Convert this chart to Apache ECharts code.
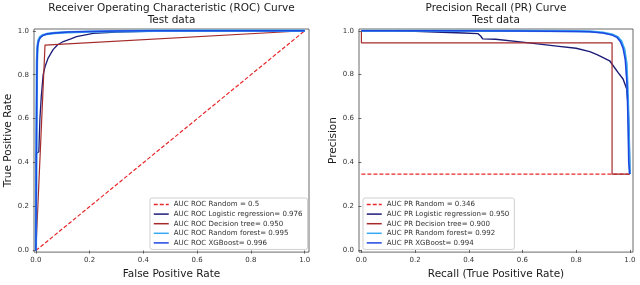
<!DOCTYPE html>
<html>
<head>
<meta charset="utf-8">
<script src="https://cdn.jsdelivr.net/npm/echarts@6/dist/echarts.min.js"></script>
<style>html,body{margin:0;padding:0;background:#fff}#c{width:640px;height:285px}</style>
</head>
<body>
<div id="c"></div>
<script>
// ---------- Data ----------
const tickValues = [0, 0.2, 0.4, 0.6, 0.8, 1.0];

// ROC curves (x = false positive rate, y = true positive rate)
const rocRandomFpr = [0, 1];
const rocRandomTpr = [0, 1];
const rocLogFpr = [0, 0, 0.011, 0.015, 0.02, 0.027, 0.035, 0.046, 0.064, 0.08, 0.102, 0.13, 0.151, 0.213, 0.3, 0.45, 0.6, 1.0];
const rocLogTpr = [0, 0.44, 0.45, 0.6, 0.7, 0.80, 0.84, 0.877, 0.914, 0.935, 0.951, 0.963, 0.973, 0.988, 0.994, 0.999, 1.0, 1.0];
const rocTreeFpr = [0, 0.034, 1];
const rocTreeTpr = [0, 0.935, 1];
const rocRfFpr = [0, 0.002, 0.004, 0.006, 0.01, 0.016, 0.025, 0.04, 0.07, 0.12, 0.2, 0.3, 0.45, 1];
const rocRfTpr = [0, 0.5, 0.86, 0.93, 0.958, 0.972, 0.98, 0.985, 0.99, 0.993, 0.996, 0.998, 1.0, 1.0];
const rocXgbFpr = [0, 0.002, 0.004, 0.006, 0.01, 0.016, 0.025, 0.04, 0.07, 0.12, 0.2, 0.3, 0.45, 1];
const rocXgbTpr = [0, 0.5, 0.85, 0.925, 0.953, 0.968, 0.978, 0.985, 0.99, 0.994, 0.997, 0.999, 1.0, 1.0];

// PR curves (x = recall, y = precision)
const prRandomRec = [0, 1];
const prRandomPrec = [0.346, 0.346];
const prLogRec = [0, 0.117, 0.2, 0.3, 0.38, 0.434, 0.445, 0.452, 0.5, 0.6, 0.728, 0.8, 0.851, 0.88, 0.925, 0.956, 0.975, 0.988, 0.994, 0.998, 1.0];
const prLogPrec = [1.0, 1.0, 0.997, 0.993, 0.99, 0.987, 0.975, 0.963, 0.961, 0.948, 0.93, 0.92, 0.905, 0.89, 0.863, 0.81, 0.78, 0.737, 0.66, 0.5, 0.346];
const prTreeRec = [0, 0, 0.934, 0.934, 1];
const prTreePrec = [1.0, 0.945, 0.945, 0.346, 0.346];
const prRfRec = [0, 0.3, 0.6, 0.8, 0.85, 0.9, 0.937, 0.955, 0.969, 0.98, 0.988, 0.993, 0.997, 1.0];
const prRfPrec = [1.0, 1.0, 0.999, 0.998, 0.997, 0.992, 0.982, 0.972, 0.952, 0.915, 0.85, 0.7, 0.5, 0.346];
const prXgbRec = [0, 0.3, 0.6, 0.8, 0.85, 0.9, 0.935, 0.952, 0.965, 0.975, 0.983, 0.99, 0.994, 0.996, 1.0];
const prXgbPrec = [1.0, 1.0, 0.999, 0.997, 0.995, 0.99, 0.98, 0.97, 0.95, 0.92, 0.87, 0.75, 0.55, 0.4, 0.346];

const rocNames = ['AUC ROC Random = 0.5', 'AUC ROC Logistic regression= 0.976', 'AUC ROC Decision tree= 0.950', 'AUC ROC Random forest= 0.995', 'AUC ROC XGBoost= 0.996'];
const prNames = ['AUC PR Random = 0.346', 'AUC PR Logistic regression= 0.950', 'AUC PR Decision tree= 0.900', 'AUC PR Random forest= 0.992', 'AUC PR XGBoost= 0.994'];
const titles = ['Receiver Operating Characteristic (ROC) Curve\nTest data', 'Precision Recall (PR) Curve\nTest data'];
const xNames = ['False Positive Rate', 'Recall (True Positive Rate)'];
const yNames = ['True Positive Rate', 'Precision'];

// ---------- Styling ----------
const FONT = 'DejaVu Sans';
const colors = { random: '#e8282b', log: '#1c1c78', tree: '#a52a2a', rf: '#37a8f2', xgb: '#1f46e0' };

function zip(xs, ys) { return xs.map((x, i) => [x, ys[i]]); }

function mkAxis(idx, min, max, name, gap) {
  return {
    type: 'value', gridIndex: idx, min: min, max: max,
    name: name, nameLocation: 'middle', nameGap: gap,
    nameTextStyle: { fontFamily: FONT, fontSize: 10.5, color: '#1a1a1a' },
    axisLine: { show: false },
    axisTick: { show: true, length: 3, lineStyle: { color: '#444', width: 0.8 }, customValues: tickValues },
    axisLabel: { fontFamily: FONT, fontSize: 7, color: '#333', margin: 5, customValues: tickValues, formatter: v => v.toFixed(1) },
    splitLine: { show: false }
  };
}
function line(name, idx, data, color, width, dashed, z) {
  return {
    type: 'line', name: name, xAxisIndex: idx, yAxisIndex: idx,
    data: data, showSymbol: false, symbol: 'none', smooth: false, z: z,
    lineStyle: { color: color, width: width, type: dashed ? [4, 2] : 'solid' },
    itemStyle: { color: color },
    emphasis: { disabled: true }, animation: false
  };
}
function legend(names, left) {
  return {
    data: names, orient: 'vertical', left: left, top: 198,
    itemWidth: 15, itemHeight: 8, itemGap: 2.6,
    padding: [3, 5, 3, 3],
    backgroundColor: '#fff', borderColor: '#cfcfcf', borderWidth: 1, borderRadius: 2,
    itemStyle: { opacity: 0 },
    lineStyle: { width: 1.5 },
    textStyle: { fontFamily: FONT, fontSize: 7.05, color: '#333' },
    selectedMode: false
  };
}

const option = {
  animation: false,
  backgroundColor: '#fff',
  title: [
    { text: titles[0], left: 171.5, textAlign: 'center', top: 2, padding: 0,
      textStyle: { fontFamily: FONT, fontSize: 10.5, fontWeight: 'normal', color: '#1a1a1a', lineHeight: 12.4 } },
    { text: titles[1], left: 496, textAlign: 'center', top: 2, padding: 0,
      textStyle: { fontFamily: FONT, fontSize: 10.5, fontWeight: 'normal', color: '#1a1a1a', lineHeight: 12.4 } }
  ],
  grid: [
    { left: 34, top: 29, width: 275, height: 228, show: true, borderColor: '#444', borderWidth: 0.8, backgroundColor: 'transparent', containLabel: false },
    { left: 359, top: 29, width: 274, height: 228, show: true, borderColor: '#444', borderWidth: 0.8, backgroundColor: 'transparent', containLabel: false }
  ],
  xAxis: [mkAxis(0, -0.007, 1.016, xNames[0], 14), mkAxis(1, -0.009, 1.012, xNames[1], 14)],
  yAxis: [mkAxis(0, -0.007, 1.008, yNames[0], 20), mkAxis(1, -0.01, 1.008, yNames[1], 19)],
  legend: [legend(rocNames, 150), legend(prNames, 363)],
  series: [
    line(rocNames[0], 0, zip(rocRandomFpr, rocRandomTpr), colors.random, 1.2, true, 2),
    line(rocNames[1], 0, zip(rocLogFpr, rocLogTpr), colors.log, 1.3, false, 3),
    line(rocNames[2], 0, zip(rocTreeFpr, rocTreeTpr), colors.tree, 1.2, false, 4),
    line(rocNames[3], 0, zip(rocRfFpr, rocRfTpr), colors.rf, 2.4, false, 5),
    line(rocNames[4], 0, zip(rocXgbFpr, rocXgbTpr), colors.xgb, 1.5, false, 6),
    line(prNames[0], 1, zip(prRandomRec, prRandomPrec), colors.random, 1.2, true, 2),
    line(prNames[1], 1, zip(prLogRec, prLogPrec), colors.log, 1.4, false, 3),
    line(prNames[2], 1, zip(prTreeRec, prTreePrec), colors.tree, 1.2, false, 4),
    line(prNames[3], 1, zip(prRfRec, prRfPrec), colors.rf, 2.2, false, 5),
    line(prNames[4], 1, zip(prXgbRec, prXgbPrec), colors.xgb, 1.5, false, 6)
  ]
};

const chart = echarts.init(document.getElementById('c'), null, { renderer: 'canvas' });
chart.setOption(option);
</script>
</body>
</html>
